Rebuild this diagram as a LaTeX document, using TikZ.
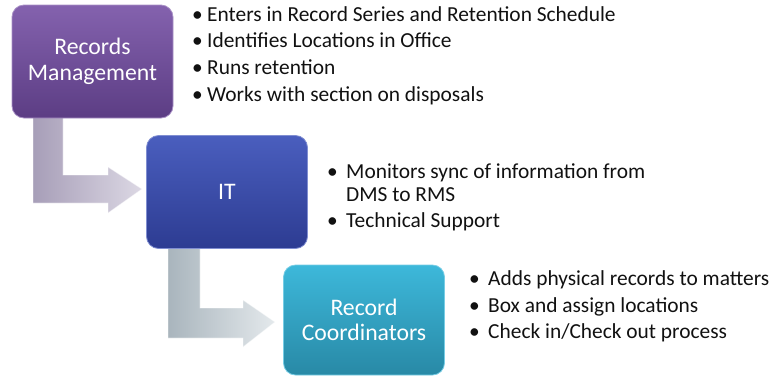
\documentclass[tikz,border=0pt]{standalone}
\usepackage{fontspec}
\setmainfont{Carlito}
\usetikzlibrary{calc}
\definecolor{purpT}{HTML}{8462AE}
\definecolor{purpB}{HTML}{5C3D84}
\definecolor{blueT}{HTML}{4A5EBE}
\definecolor{blueB}{HTML}{2D3C92}
\definecolor{tealT}{HTML}{3DB8DA}
\definecolor{tealB}{HTML}{2889A6}
\definecolor{arrAL}{HTML}{A79EB8}
\definecolor{arrAR}{HTML}{DCD8E4}
\definecolor{arrBL}{HTML}{A9B5BD}
\definecolor{arrBR}{HTML}{E4E9EC}
\definecolor{txt}{HTML}{111111}
\tikzset{
  box/.style={rounded corners=12pt, minimum width=161pt, minimum height=113pt,
    align=center, text=white, font=\fontsize{23.7}{25.5}\selectfont, inner sep=0pt},
  item/.style={anchor=base west, inner sep=0pt, text=txt, font=\fontsize{21.4}{24}\selectfont},
  bul/.style={anchor=base west, inner sep=0pt, text=txt, font=\fontsize{21.4}{24}\selectfont},
  bent/.style={draw=white, draw opacity=0.5, line width=0.8pt}
}
\begin{document}
\begin{tikzpicture}[x=1pt,y=-1pt]
\useasboundingbox (0,0) rectangle (771,376);
% arrows
\shade[bent, left color=arrAL, right color=arrAR]
  (33,116) -- (63,116) -- (63,175) -- (108,175) -- (108,167) -- (142,189) -- (108,213) -- (108,203) -- (33,203) -- cycle;
\shade[bent, left color=arrBL, right color=arrBR]
  (168,247) -- (200,247) -- (200,308) -- (243,308) -- (243,300) -- (275,322) -- (243,347) -- (243,338) -- (168,338) -- cycle;
% boxes
\node[box, top color=purpT, bottom color=purpB, draw=purpT!70!white, line width=0.8pt] (rm) at (92.5,61.5) {Records\\Management};
\node[box, top color=blueT, bottom color=blueB, draw=blueT!70!white, line width=0.8pt] (it) at (227,192) {IT};
\node[box, top color=tealT, bottom color=tealB, draw=tealT!70!white, line width=0.8pt, minimum height=110pt] (rc) at (364,320) {Record\\Coordinators};
% list 1
\node[bul] (b1a) at (192,21) {•};
\node[item] (t1a) at (207,21) {Enters in Record Series and Retention Schedule};
\node[bul] (b1b) at (192,47.5) {•};
\node[item] (t1b) at (207,47.5) {Identifies Locations in Office};
\node[bul] (b1c) at (192,74) {•};
\node[item] (t1c) at (207,74) {Runs retention};
\node[bul] (b1d) at (192,101) {•};
\node[item] (t1d) at (207,101) {Works with section on disposals};
% list 2
\node[bul] (b2a) at (327,178) {•};
\node[item] (t2a) at (346,178) {Monitors sync of information from};
\node[item] (t2b) at (346,201) {DMS to RMS};
\node[bul] (b2c) at (327,227) {•};
\node[item] (t2c) at (346,227) {Technical Support};
% list 3
\node[bul] (b3a) at (469,285) {•};
\node[item] (t3a) at (488,285) {Adds physical records to matters};
\node[bul] (b3b) at (469,312) {•};
\node[item] (t3b) at (488,312) {Box and assign locations};
\node[bul] (b3c) at (469,338) {•};
\node[item] (t3c) at (488,338) {Check in/Check out process};
\end{tikzpicture}
\end{document}
